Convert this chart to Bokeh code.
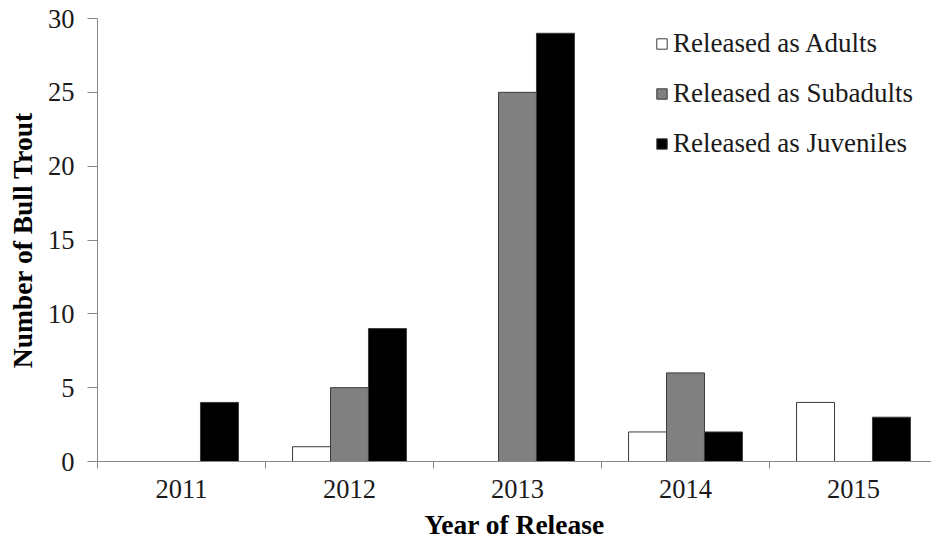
from bokeh.plotting import figure
from bokeh.models import FixedTicker, Range1d, Legend, LegendItem, ColumnDataSource
from bokeh.embed import file_html
from bokeh.resources import INLINE

years = ["2011", "2012", "2013", "2014", "2015"]
adults = [0, 1, 0, 2, 4]
subadults = [0, 5, 25, 6, 0]
juveniles = [4, 9, 29, 2, 3]
y_ticks = [0, 5, 10, 15, 20, 25, 30]

series = [
    ("Released as Adults", adults, "#ffffff", -1),
    ("Released as Subadults", subadults, "#808080", 0),
    ("Released as Juveniles", juveniles, "#000000", 1),
]

FONT = "Liberation Serif"
BAR_W = 0.226
CAT_PX = 168
FRAME_W = 931 - 97

p = figure(width=931, height=543, output_backend="svg", toolbar_location=None,
           x_range=Range1d(-0.5, -0.5 + FRAME_W / CAT_PX), y_range=Range1d(0, 30),
           min_border_left=97, min_border_right=0, min_border_top=18,
           min_border_bottom=82)
p.outline_line_color = None
p.xgrid.visible = False
p.ygrid.visible = False

items = []
for name, vals, color, off in series:
    xs = [i + off * BAR_W for i, v in enumerate(vals) if v > 0]
    hs = [v for v in vals if v > 0]
    src = ColumnDataSource(dict(x=xs, top=hs))
    r = p.vbar(x="x", top="top", width=BAR_W, source=src, fill_color=color,
               line_color="#3a3a3a", line_width=1)
    items.append(LegendItem(label=name, renderers=[r]))

legend = Legend(items=items, location=(558, 302), padding=0, margin=0,
                border_line_alpha=0, background_fill_alpha=0,
                glyph_width=13, glyph_height=13, label_height=30, spacing=19,
                label_standoff=5, label_text_font=FONT, label_text_font_size="27px",
                label_text_color="#1a1a1a")
p.add_layout(legend, "center")

# x axis
xa = p.xaxis[0]
xa.ticker = FixedTicker(ticks=list(range(len(years))),
                        minor_ticks=[i - 0.5 for i in range(len(years) + 1)])
xa.major_label_overrides = {i: y for i, y in enumerate(years)}
xa.major_tick_out = 7
xa.major_tick_in = 0
xa.major_tick_line_alpha = 0
xa.minor_tick_out = 7
xa.minor_tick_in = 0
xa.minor_tick_line_color = "#868686"
xa.axis_line_color = "#868686"
xa.major_label_standoff = 11
xa.major_label_text_font = FONT
xa.major_label_text_font_size = "26.5px"
xa.major_label_text_color = "#1a1a1a"
xa.axis_label = "Year of Release"
xa.axis_label_text_font = FONT
xa.axis_label_text_font_size = "27.5px"
xa.axis_label_text_font_style = "bold"
xa.axis_label_text_color = "#000000"
xa.axis_label_standoff = 8

# y axis
ya = p.yaxis[0]
ya.ticker = FixedTicker(ticks=y_ticks)
ya.major_tick_out = 10
ya.major_tick_in = 0
ya.minor_tick_line_color = None
ya.major_tick_line_color = "#868686"
ya.axis_line_color = "#868686"
ya.major_label_standoff = 13
ya.major_label_text_font = FONT
ya.major_label_text_font_size = "26.5px"
ya.major_label_text_color = "#1a1a1a"
ya.axis_label = "Number of Bull Trout"
ya.axis_label_text_font = FONT
ya.axis_label_text_font_size = "27.5px"
ya.axis_label_text_font_style = "bold"
ya.axis_label_text_color = "#000000"
ya.axis_label_standoff = 7

open("out.html", "w").write(file_html(p, INLINE))
